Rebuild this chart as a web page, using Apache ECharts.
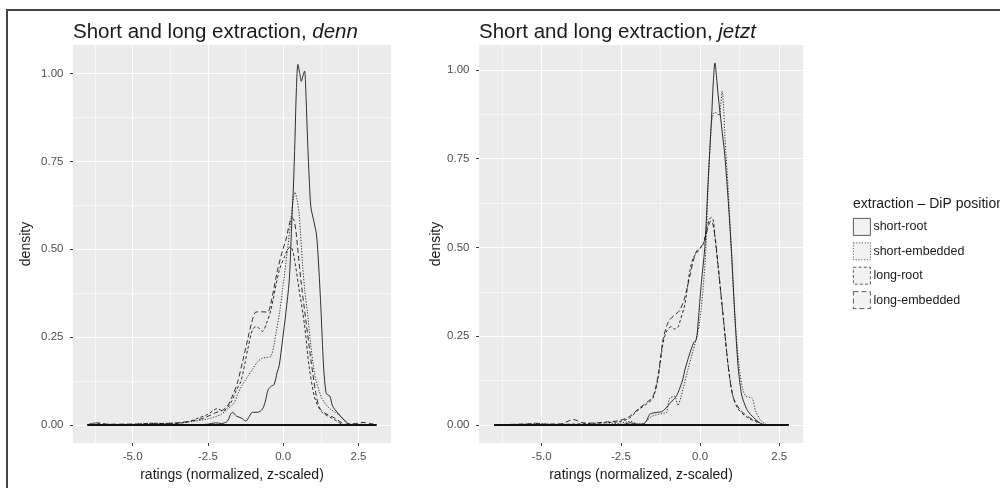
<!DOCTYPE html>
<html><head><meta charset="utf-8">
<script src="https://cdn.jsdelivr.net/npm/echarts@6/dist/echarts.min.js"></script>
<style>html,body{margin:0;padding:0;background:#fff}#c{width:1000px;height:488px}</style>
</head><body><div id="c"></div>
<script>
const seriesNames = ['short-root', 'short-embedded', 'long-root', 'long-embedded'];
const panelWords = ['denn', 'jetzt'];
const titlePrefix = 'Short and long extraction, ';
const legendTitle = 'extraction \u2013 DiP position';
const xTitle = 'ratings (normalized, z-scaled)';
const yTitle = 'density';
const xTicks = [-5.0, -2.5, 0.0, 2.5];
const xMinorTicks = [-6.25, -3.75, -1.25, 1.25];
const yTicks = [0, 0.25, 0.5, 0.75, 1.0];
const yMinorTicks = [0.125, 0.375, 0.625, 0.875];
const dataRangeDenn = [-6.5, 3.1];
const dataRangeJetzt = [-6.5, 2.8];

// ---- denn ----
const dennShortRoot = [[-6.5,0],[-3.0,0],[-2.5,0.002],[-2.24,0.006],[-2.05,0.004],[-1.85,0.011],[-1.75,0.03],[-1.68,0.036],[-1.55,0.025],[-1.4,0.02],[-1.24,0.011],[-1.12,0.025],[-1.02,0.036],[-0.85,0.036],[-0.69,0.045],[-0.6,0.065],[-0.5,0.1],[-0.4,0.11],[-0.3,0.115],[-0.2,0.15],[-0.13,0.17],[-0.02,0.243],[0.09,0.32],[0.2,0.41],[0.25,0.5],[0.29,0.59],[0.34,0.68],[0.39,0.81],[0.44,0.96],[0.49,1.026],[0.55,1.0],[0.6,0.978],[0.66,0.995],[0.71,1.007],[0.76,0.93],[0.81,0.81],[0.87,0.69],[0.92,0.62],[1.03,0.575],[1.1,0.545],[1.14,0.507],[1.2,0.42],[1.25,0.337],[1.34,0.167],[1.42,0.092],[1.48,0.085],[1.55,0.082],[1.64,0.054],[1.8,0.035],[1.95,0.02],[2.08,0.01],[2.2,0.002],[2.5,0],[3.1,0]];
const dennShortEmb = [[-6.5,0],[-5.0,0.002],[-4.3,0.004],[-3.5,0.005],[-3.0,0.01],[-2.62,0.015],[-2.3,0.022],[-2.07,0.03],[-1.85,0.045],[-1.63,0.063],[-1.5,0.09],[-1.35,0.115],[-1.2,0.135],[-1.02,0.158],[-0.85,0.18],[-0.69,0.19],[-0.55,0.192],[-0.41,0.195],[-0.3,0.23],[-0.24,0.26],[-0.12,0.32],[-0.02,0.384],[0.14,0.497],[0.25,0.58],[0.33,0.64],[0.39,0.662],[0.45,0.645],[0.53,0.6],[0.64,0.46],[0.72,0.38],[0.81,0.318],[0.92,0.224],[1.0,0.17],[1.08,0.13],[1.2,0.095],[1.3,0.073],[1.45,0.055],[1.58,0.044],[1.75,0.035],[1.91,0.025],[2.05,0.01],[2.18,0.002],[2.4,0.002],[3.1,0]];
const dennLongRoot = [[-6.5,0],[-6.3,0.005],[-6.0,0.002],[-5.0,0.001],[-4.3,0.005],[-3.8,0.003],[-3.2,0.008],[-2.8,0.02],[-2.5,0.03],[-2.2,0.046],[-2.0,0.04],[-1.74,0.063],[-1.55,0.1],[-1.4,0.125],[-1.18,0.214],[-1.02,0.271],[-0.9,0.28],[-0.8,0.275],[-0.69,0.266],[-0.55,0.29],[-0.41,0.327],[-0.13,0.44],[0.05,0.48],[0.15,0.5],[0.25,0.507],[0.36,0.478],[0.53,0.384],[0.7,0.29],[0.86,0.167],[1.03,0.082],[1.15,0.055],[1.3,0.035],[1.6,0.02],[1.8,0.01],[2.0,0],[3.1,0]];
const dennLongEmb = [[-6.5,0],[-6.2,0.006],[-5.8,0.002],[-4.5,0.003],[-3.5,0.006],[-3.0,0.012],[-2.62,0.02],[-2.24,0.035],[-2.05,0.04],[-1.85,0.054],[-1.7,0.08],[-1.52,0.12],[-1.35,0.18],[-1.18,0.243],[-1.05,0.29],[-0.91,0.321],[-0.7,0.322],[-0.52,0.321],[-0.41,0.346],[-0.19,0.44],[-0.02,0.497],[0.1,0.53],[0.2,0.57],[0.28,0.59],[0.35,0.585],[0.42,0.554],[0.59,0.41],[0.75,0.3],[0.92,0.186],[1.08,0.092],[1.2,0.05],[1.36,0.035],[1.7,0.02],[2.08,0.002],[2.4,0.004],[2.65,0.007],[2.9,0.004],[3.1,0]];

// ---- jetzt ----
const jetztShortRoot = [[-6.5,0],[-2.5,0],[-2.2,0.006],[-2.0,0.002],[-1.8,0.003],[-1.7,0.01],[-1.59,0.03],[-1.45,0.034],[-1.3,0.036],[-1.22,0.037],[-1.1,0.045],[-0.96,0.06],[-0.8,0.075],[-0.7,0.09],[-0.54,0.13],[-0.48,0.155],[-0.33,0.2],[-0.2,0.232],[-0.12,0.24],[-0.06,0.29],[0.04,0.4],[0.15,0.5],[0.25,0.68],[0.36,0.86],[0.42,0.97],[0.47,1.02],[0.52,0.98],[0.57,0.93],[0.68,0.84],[0.78,0.76],[0.89,0.63],[0.99,0.49],[1.1,0.305],[1.2,0.165],[1.3,0.09],[1.36,0.07],[1.5,0.04],[1.7,0.02],[1.9,0.005],[2.1,0],[2.8,0]];
const jetztShortEmb = [[-6.5,0],[-5.3,0.003],[-5.1,0.004],[-4.5,0.001],[-3.0,0.002],[-2.5,0.005],[-2.2,0.01],[-2.0,0.003],[-1.8,0.002],[-1.65,0.015],[-1.5,0.025],[-1.3,0.03],[-1.15,0.033],[-1.06,0.035],[-0.96,0.075],[-0.8,0.08],[-0.7,0.055],[-0.6,0.08],[-0.54,0.1],[-0.4,0.15],[-0.25,0.2],[-0.1,0.25],[0.0,0.3],[0.1,0.39],[0.18,0.49],[0.25,0.66],[0.36,0.85],[0.45,0.88],[0.5,0.88],[0.6,0.872],[0.65,0.9],[0.7,0.94],[0.74,0.9],[0.78,0.82],[0.89,0.66],[0.99,0.49],[1.1,0.305],[1.24,0.16],[1.35,0.1],[1.45,0.08],[1.55,0.078],[1.65,0.075],[1.75,0.04],[1.9,0.015],[2.05,0.003],[2.2,0],[2.8,0]];
const jetztLongRoot = [[-6.5,0],[-5.5,0.001],[-4.2,0.002],[-3.5,0.004],[-3.0,0.006],[-2.5,0.01],[-2.22,0.02],[-1.91,0.045],[-1.7,0.058],[-1.49,0.075],[-1.33,0.13],[-1.17,0.23],[-1.05,0.265],[-0.9,0.277],[-0.8,0.27],[-0.7,0.275],[-0.64,0.29],[-0.48,0.34],[-0.33,0.43],[-0.22,0.47],[-0.06,0.49],[0.1,0.51],[0.2,0.55],[0.3,0.58],[0.36,0.585],[0.42,0.575],[0.47,0.53],[0.57,0.445],[0.68,0.35],[0.78,0.26],[0.89,0.165],[1.04,0.08],[1.2,0.045],[1.5,0.02],[1.75,0.01],[1.9,0],[2.8,0]];
const jetztLongEmb = [[-6.5,0],[-5.4,0.003],[-5.2,0.005],[-5.0,0.002],[-4.4,0.003],[-4.0,0.015],[-3.7,0.006],[-3.4,0.005],[-3.0,0.008],[-2.56,0.012],[-2.22,0.024],[-1.91,0.048],[-1.7,0.062],[-1.49,0.08],[-1.33,0.136],[-1.17,0.24],[-1.05,0.28],[-0.96,0.296],[-0.8,0.31],[-0.64,0.323],[-0.48,0.36],[-0.33,0.417],[-0.22,0.46],[-0.11,0.49],[0.0,0.5],[0.1,0.51],[0.2,0.54],[0.3,0.57],[0.36,0.575],[0.42,0.56],[0.5,0.51],[0.57,0.45],[0.68,0.35],[0.78,0.26],[0.89,0.165],[1.04,0.08],[1.26,0.043],[1.57,0.02],[1.8,0.01],[2.0,0],[2.8,0]];

const panelData = [
  [dennShortRoot, dennShortEmb, dennLongRoot, dennLongEmb],
  [jetztShortRoot, jetztShortEmb, jetztLongRoot, jetztLongEmb]
];
const panelRanges = [dataRangeDenn, dataRangeJetzt];

const FONT = '"Liberation Sans", Arial, Helvetica, sans-serif';
const dashes = ['solid', [1.2, 1.6], [3, 2.2], [5, 3]];
const grids = [
  {left: 73, top: 45, width: 318, height: 398},
  {left: 479, top: 45, width: 324, height: 398}
];
const xLims = [[-6.98, 3.58], [-6.98, 3.25]];
const yLims = [[-0.0515, 1.0815], [-0.051, 1.0705]];
const yNameGap = [40, 36];

const chart = echarts.init(document.getElementById('c'), null, {renderer: 'canvas'});
const xAxes = [], yAxes = [], series = [];
grids.forEach((g, p) => {
  xAxes.push({
    type: 'value', gridIndex: p, min: xLims[p][0], max: xLims[p][1], position: 'bottom',
    axisLine: {show: false, onZero: false},
    axisTick: {show: true, customValues: xTicks, length: 3, lineStyle: {color: '#333', width: 1}},
    axisLabel: {customValues: xTicks, formatter: v => v.toFixed(1), color: '#4d4d4d', fontSize: 11.5, fontFamily: FONT, margin: 8},
    splitLine: {show: true, lineStyle: {color: '#ffffff', width: 1.1}},
    name: xTitle, nameLocation: 'middle', nameGap: 24,
    nameTextStyle: {fontSize: 14, color: '#1a1a1a', fontFamily: FONT}
  });
  xAxes.push({
    type: 'value', gridIndex: p, min: xLims[p][0], max: xLims[p][1], position: 'top',
    axisLine: {show: false, onZero: false},
    axisTick: {show: false, customValues: xMinorTicks},
    axisLabel: {show: false, customValues: xMinorTicks},
    splitLine: {show: true, lineStyle: {color: '#ffffff', width: 0.55}}
  });
  yAxes.push({
    type: 'value', gridIndex: p, min: yLims[p][0], max: yLims[p][1], position: 'left',
    axisLine: {show: false, onZero: false},
    axisTick: {show: true, customValues: yTicks, length: 3, lineStyle: {color: '#333', width: 1}},
    axisLabel: {customValues: yTicks, formatter: v => v.toFixed(2), color: '#4d4d4d', fontSize: 11.5, fontFamily: FONT, margin: 9.5},
    splitLine: {show: true, lineStyle: {color: '#ffffff', width: 1.1}},
    name: yTitle, nameLocation: 'middle', nameGap: yNameGap[p], nameRotate: 90,
    nameTextStyle: {fontSize: 14, color: '#1a1a1a', fontFamily: FONT}
  });
  yAxes.push({
    type: 'value', gridIndex: p, min: yLims[p][0], max: yLims[p][1], position: 'right',
    axisLine: {show: false, onZero: false},
    axisTick: {show: false, customValues: yMinorTicks},
    axisLabel: {show: false, customValues: yMinorTicks},
    splitLine: {show: true, lineStyle: {color: '#ffffff', width: 0.55}}
  });
  series.push({
    type: 'line', xAxisIndex: 2 * p, yAxisIndex: 2 * p, silent: true,
    data: [[panelRanges[p][0], 0], [panelRanges[p][1], 0]],
    symbol: 'none', lineStyle: {color: '#111', width: 2}, z: 4
  });
  panelData[p].forEach((d, i) => {
    series.push({
      name: seriesNames[i], type: 'line', xAxisIndex: 2 * p, yAxisIndex: 2 * p,
      data: d, symbol: 'none', showSymbol: false, smooth: 0.3, silent: true,
      lineStyle: {color: '#1a1a1a', width: 0.9, type: dashes[i]}, z: 3
    });
  });
});

const titleRich = {
  a: {fontSize: 20.5, color: '#1a1a1a', fontFamily: FONT, fontWeight: 'normal'},
  b: {fontSize: 20.5, color: '#1a1a1a', fontStyle: 'italic', fontFamily: FONT, fontWeight: 'normal'}
};
const option = {
  backgroundColor: '#ffffff',
  animation: false,
  title: [
    {text: '{a|' + titlePrefix + '}{b|' + panelWords[0] + '}', left: 73, top: 22, padding: 0,
     textStyle: {fontWeight: 'normal', rich: titleRich}},
    {text: '{a|' + titlePrefix + '}{b|' + panelWords[1] + '}', left: 479, top: 22, padding: 0,
     textStyle: {fontWeight: 'normal', rich: titleRich}},
    {text: legendTitle, left: 853, top: 197, padding: 0,
     textStyle: {fontSize: 14, fontWeight: 'normal', color: '#1a1a1a', fontFamily: FONT}}
  ],
  legend: {
    orient: 'vertical', left: 853, top: 218, padding: 0,
    itemWidth: 17, itemHeight: 17, itemGap: 6.6, selectedMode: false,
    textStyle: {fontSize: 12.5, color: '#1a1a1a', fontFamily: FONT, padding: [0, 0, 0, -2]},
    data: seriesNames.map((n, i) => ({
      name: n, icon: 'rect',
      itemStyle: {color: '#f2f2f2', borderColor: '#333', borderWidth: 0.8, borderType: dashes[i]}
    }))
  },
  grid: grids.map(g => Object.assign({show: true, backgroundColor: '#ebebeb', borderWidth: 0, containLabel: false, outerBoundsMode: 'none'}, g)),
  xAxis: xAxes,
  yAxis: yAxes,
  series: series,
  graphic: [{
    type: 'rect', shape: {x: 7, y: 10, width: 1100, height: 700},
    style: {fill: null, stroke: '#444', lineWidth: 2}, silent: true, z: 100
  }]
};
chart.setOption(option);
</script>
</body></html>
